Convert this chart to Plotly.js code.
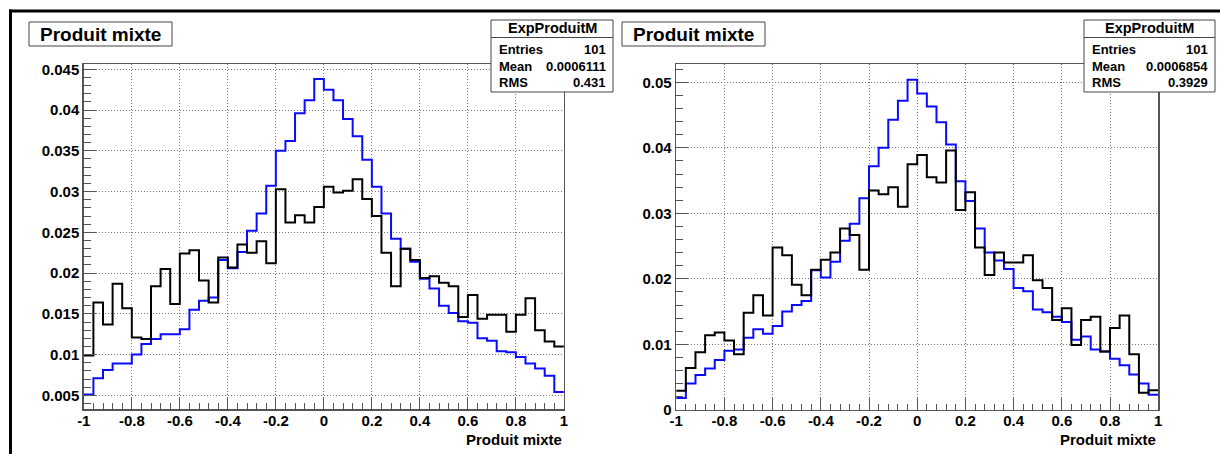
<!DOCTYPE html>
<html>
<head>
<meta charset="utf-8">
<script src="https://cdn.plot.ly/plotly-3.0.1.min.js"></script>
<style>
  html, body { margin: 0; padding: 0; background: #fff; }
  #chart { width: 1220px; height: 454px; }
</style>
</head>
<body>
<div id="chart"></div>
<script>
// ---------- data ----------
const histMin = -1;
const histMax = 1;
const nBins = 50;

// left pad
const leftBlue = [0.0051,0.0071,0.0081,0.0089,0.0089,0.0100,0.0113,0.0119,0.0125,0.0125,
                  0.0131,0.0155,0.0166,0.0170,0.0216,0.0206,0.0226,0.0252,0.0273,0.0307,
                  0.0350,0.0362,0.0396,0.0412,0.0438,0.0425,0.0412,0.0389,0.0368,0.0339,
                  0.0306,0.0273,0.0242,0.0230,0.0214,0.0193,0.0181,0.0160,0.0151,0.0141,
                  0.0139,0.0120,0.0117,0.0104,0.0103,0.0097,0.0089,0.0083,0.0074,0.0054];
const leftBlack = [0.0099,0.0164,0.0137,0.0187,0.0157,0.0121,0.0119,0.0184,0.0205,0.0162,
                   0.0224,0.0228,0.0191,0.0164,0.0219,0.0207,0.0235,0.0225,0.0239,0.0212,
                   0.0303,0.0262,0.0271,0.0262,0.0281,0.0306,0.0299,0.0301,0.0315,0.0291,
                   0.0270,0.0225,0.0184,0.0230,0.0216,0.0194,0.0196,0.0188,0.0184,0.0146,
                   0.0173,0.0144,0.0149,0.0149,0.0128,0.0149,0.0169,0.0130,0.0116,0.0110];

// right pad
const rightBlue = [0.0018,0.0040,0.0053,0.0063,0.0076,0.0090,0.0092,0.0110,0.0123,0.0116,
                   0.0128,0.0150,0.0160,0.0166,0.0213,0.0202,0.0226,0.0258,0.0284,0.0323,
                   0.0372,0.0400,0.0443,0.0472,0.0504,0.0483,0.0463,0.0439,0.0405,0.0349,
                   0.0319,0.0277,0.0240,0.0228,0.0215,0.0186,0.0181,0.0153,0.0149,0.0142,
                   0.0134,0.0107,0.0112,0.0092,0.0089,0.0078,0.0068,0.0054,0.0040,0.0023];
const rightBlack = [0.0029,0.0064,0.0088,0.0114,0.0118,0.0106,0.0085,0.0148,0.0175,0.0144,
                    0.0248,0.0236,0.0191,0.0175,0.0214,0.0229,0.0240,0.0277,0.0267,0.0214,
                    0.0335,0.0329,0.0340,0.0310,0.0375,0.0389,0.0355,0.0347,0.0396,0.0305,
                    0.0332,0.0248,0.0206,0.0240,0.0225,0.0225,0.0236,0.0198,0.0186,0.0137,
                    0.0155,0.0099,0.0137,0.0142,0.0089,0.0125,0.0144,0.0085,0.0026,0.0030];

const xTickVals = [-1,-0.8,-0.6,-0.4,-0.2,0,0.2,0.4,0.6,0.8,1];
const xTickText = ['-1','-0.8','-0.6','-0.4','-0.2','0','0.2','0.4','0.6','0.8','1'];
const leftYTickVals = [0.005,0.01,0.015,0.02,0.025,0.03,0.035,0.04,0.045];
const leftYTickText = ['0.005','0.01','0.015','0.02','0.025','0.03','0.035','0.04','0.045'];
const rightYTickVals = [0,0.01,0.02,0.03,0.04,0.05];
const rightYTickText = ['0','0.01','0.02','0.03','0.04','0.05'];

const padTitle = 'Produit mixte';
const xAxisTitle = 'Produit mixte';
const statsName = 'ExpProduitM';
const statsLabels = ['Entries','Mean','RMS'];
const leftStats = ['101','0.0006111','0.431'];
const rightStats = ['101','0.0006854','0.3929'];

// ---------- helpers ----------
const W = 1220, H = 454;
const px = x => x / W;
const py = y => 1 - y / H;
const FONT = 'Liberation Sans, Arial, Helvetica, sans-serif';

const edges = [];
for (let i = 0; i <= nBins; i++) edges.push(histMin + (histMax - histMin) * i / nBins);

function stepTrace(vals, color, xa, ya) {
  return {
    type: 'scatter', mode: 'lines',
    x: edges, y: vals.concat([vals[vals.length - 1]]),
    line: {shape: 'hv', color: color, width: 2},
    xaxis: xa, yaxis: ya, hoverinfo: 'skip', showlegend: false
  };
}

const data = [
  stepTrace(leftBlue, '#0a0aff', 'x', 'y'),
  stepTrace(leftBlack, '#000000', 'x', 'y'),
  stepTrace(rightBlue, '#0a0aff', 'x2', 'y2'),
  stepTrace(rightBlack, '#000000', 'x2', 'y2')
];

const axisColor = '#555555';
const gridStyle = {showgrid: true, gridcolor: '#777777', griddash: '1px,2px', gridwidth: 1};
const tickFont = {family: FONT, size: 15, color: '#000', weight: 'bold'};

function xAxis(domain, anchor) {
  return Object.assign({
    domain: domain, anchor: anchor, range: [histMin, histMax],
    tickmode: 'array', tickvals: xTickVals, ticktext: xTickText,
    ticks: 'inside', ticklen: 12, tickwidth: 1, tickcolor: axisColor,
    minor: {tick0: histMin, dtick: 0.04, ticks: 'inside', ticklen: 6, tickwidth: 1, tickcolor: axisColor, showgrid: false},
    showline: true, linecolor: axisColor, linewidth: 1.5, mirror: true,
    zeroline: false, tickfont: tickFont, ticklabelstandoff: -3, fixedrange: true
  }, gridStyle);
}
function yAxis(domain, anchor, range, tv, tt, minorD) {
  return Object.assign({
    domain: domain, anchor: anchor, range: range,
    tickmode: 'array', tickvals: tv, ticktext: tt,
    ticks: 'inside', ticklen: 12, tickwidth: 1, tickcolor: axisColor,
    minor: {dtick: minorD, tick0: 0, ticks: 'inside', ticklen: 7, tickwidth: 1, tickcolor: axisColor, showgrid: false},
    showline: true, linecolor: axisColor, linewidth: 1.5, mirror: true,
    zeroline: false, tickfont: tickFont, fixedrange: true
  }, gridStyle);
}

// pixel geometry of the two frames
const L = {x0: 83.8, x1: 563.9, y0: 64, y1: 409.3};
const R = {x0: 676.2, x1: 1158.2, y0: 64, y1: 409.8};

const shapes = [];
const annotations = [];

function rect(x0, y0, x1, y1, lw, lc) {
  shapes.push({type: 'rect', xref: 'paper', yref: 'paper', x0: px(x0), x1: px(x1), y0: py(y1), y1: py(y0),
               line: {color: lc, width: lw}, fillcolor: '#ffffff', layer: 'above'});
}
function hline(x0, x1, y, lw, lc) {
  shapes.push({type: 'line', xref: 'paper', yref: 'paper', x0: px(x0), x1: px(x1), y0: py(y), y1: py(y),
               line: {color: lc, width: lw}, layer: 'above'});
}
function text(t, x, y, size, xanchor) {
  annotations.push({text: t, xref: 'paper', yref: 'paper', x: px(x), y: py(y), xanchor: xanchor, yanchor: 'middle',
                    showarrow: false, font: {family: FONT, size: size, color: '#000', weight: 'bold'}});
}

// outer black border (top and left)
shapes.push({type: 'line', xref: 'paper', yref: 'paper', x0: px(9), x1: px(1220), y0: py(11), y1: py(11), line: {color: '#000', width: 3}});
shapes.push({type: 'line', xref: 'paper', yref: 'paper', x0: px(10.5), x1: px(10.5), y0: py(9.5), y1: py(454), line: {color: '#000', width: 3}});

// title boxes
rect(29, 22, 172, 46, 1, '#444');
text(padTitle, 100.5, 34.5, 19, 'center');
rect(622, 22, 765, 46, 1, '#444');
text(padTitle, 693.5, 34.5, 19, 'center');

// stats boxes
function stats(x0, x1, vals) {
  rect(x0, 20, x1, 92, 1, '#444');
  hline(x0, x1, 37.5, 1, '#444');
  text(statsName, (x0 + x1) / 2, 28.5, 14.5, 'center');
  const rows = [49.5, 66.2, 83];
  for (let i = 0; i < 3; i++) {
    text(statsLabels[i], x0 + 6, rows[i], 13, 'left');
    text(vals[i], x1 - 5, rows[i], 13, 'right');
  }
}
stats(491, 613, leftStats);
stats(1084, 1215, rightStats);

// axis titles (right aligned, ROOT style)
text(xAxisTitle, L.x1, 439, 15, 'right');
text(xAxisTitle, R.x1, 439.5, 15, 'right');

const layout = {
  width: W, height: H,
  margin: {l: 0, r: 0, t: 0, b: 0, pad: 0},
  paper_bgcolor: '#ffffff', plot_bgcolor: '#ffffff',
  showlegend: false,
  xaxis: xAxis([px(L.x0), px(L.x1)], 'y'),
  yaxis: yAxis([py(L.y1), py(L.y0)], 'x', [0.00329, 0.04565], leftYTickVals, leftYTickText, 0.001),
  xaxis2: xAxis([px(R.x0), px(R.x1)], 'y2'),
  yaxis2: yAxis([py(R.y1), py(R.y0)], 'x2', [0, 0.0528], rightYTickVals, rightYTickText, 0.002),
  shapes: shapes,
  annotations: annotations
};

Plotly.newPlot('chart', data, layout, {displayModeBar: false, staticPlot: true});
</script>
</body>
</html>
